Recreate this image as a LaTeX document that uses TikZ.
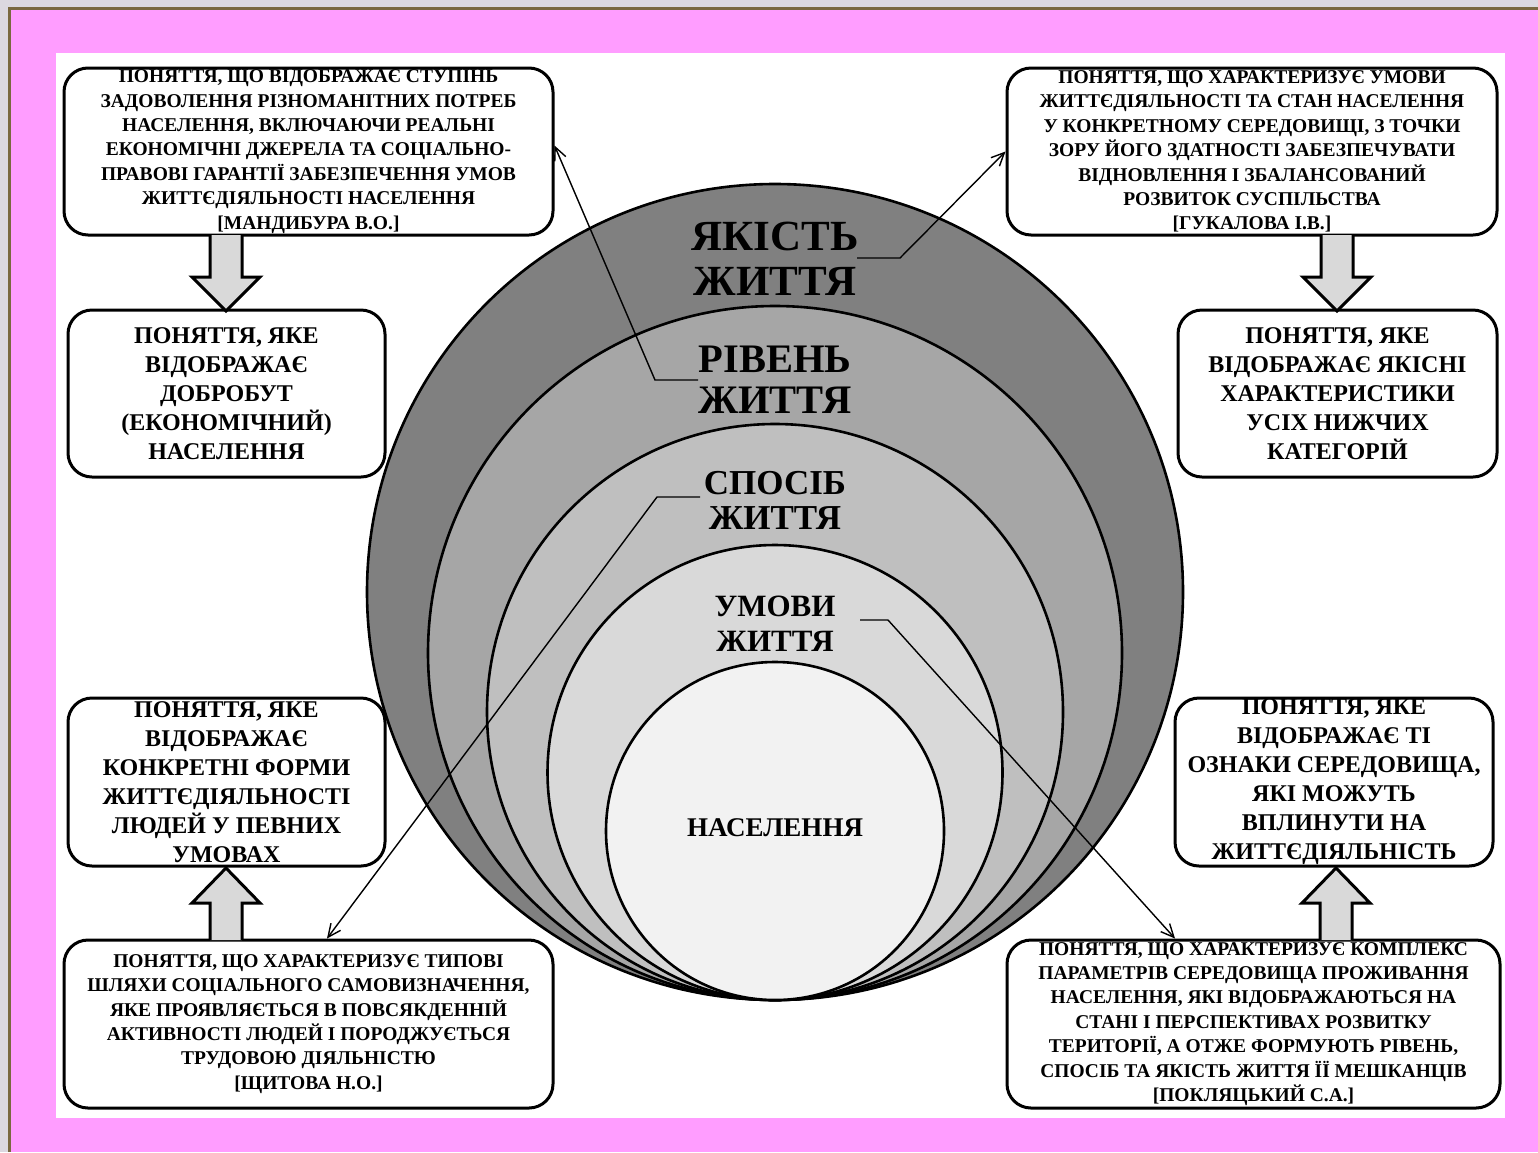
\documentclass[tikz,border=0pt]{standalone}
\usepackage{fontspec}
\setmainfont{Liberation Serif}[BoldFont={Liberation Serif Bold}]
\newfontfamily\timesbold{Liberation Serif Bold}
\usetikzlibrary{arrows.meta}
\definecolor{pinkbg}{HTML}{FF9DFF}
\definecolor{greyside}{HTML}{DCD8E0}
\definecolor{brownline}{HTML}{7A6840}
\definecolor{ringA}{HTML}{808080}
\definecolor{ringB}{HTML}{A6A6A6}
\definecolor{ringC}{HTML}{BFBFBF}
\definecolor{ringD}{HTML}{D9D9D9}
\definecolor{ringE}{HTML}{F2F2F2}
\definecolor{arrowgrey}{HTML}{D9D9D9}
\tikzset{
  defbox/.style={draw=black, line width=3pt, rounded corners=24pt, fill=white,
    inner sep=0pt, align=center},
  smalltext/.style={font=\timesbold\fontsize{19.5}{24.4}\selectfont},
  midtext/.style={font=\timesbold\fontsize{24}{29}\selectfont},
  ring/.style={circle, draw=black, line width=2.6pt, inner sep=0pt},
  ringlabel/.style={align=center, inner sep=0pt},
  connector/.style={draw=black, line width=1.4pt, -{Straight Barb[length=13pt,width=12pt]}},
  blockfill/.style={fill=arrowgrey},
  blockline/.style={draw=black, line width=3pt, line join=miter}
}
\begin{document}
\begin{tikzpicture}[x=1pt,y=-1pt]
\useasboundingbox (0,0) rectangle (1538,1152);
% background
\fill[greyside] (0,0) rectangle (1538,1152);
\fill[pinkbg] (9,8) rectangle (1538,1152);
\draw[brownline, line width=3pt] (9.5,1152) -- (9.5,8.5) -- (1538,8.5);
\fill[white] (56,53) rectangle (1505,1118);

% circles
\node[ring, fill=ringA, minimum size=816pt] (c1) at (775,592) {};
\node[ring, fill=ringB, minimum size=694pt] (c2) at (775,653) {};
\node[ring, fill=ringC, minimum size=576pt] (c3) at (775,712) {};
\node[ring, fill=ringD, minimum size=455pt] (c4) at (775,772.5) {};
\node[ring, fill=ringE, minimum size=338pt] (c5) at (775,831) {};

% ring labels
\node[ringlabel, font=\timesbold\fontsize{43}{45}\selectfont] (lq) at (775,259) {ЯКІСТЬ\\ЖИТТЯ};
\node[ringlabel, font=\timesbold\fontsize{40.5}{41}\selectfont] (lr) at (775,380) {РІВЕНЬ\\ЖИТТЯ};
\node[ringlabel, font=\timesbold\fontsize{35}{35}\selectfont] (ls) at (775,500) {СПОСІБ\\ЖИТТЯ};
\node[ringlabel, font=\timesbold\fontsize{31}{35}\selectfont] (lu) at (775,624) {УМОВИ\\ЖИТТЯ};
\node[ringlabel, font=\timesbold\fontsize{27}{30}\selectfont] (ln) at (775,828) {НАСЕЛЕННЯ};

% boxes
\node[defbox, smalltext, minimum width=489pt, minimum height=167pt] (tl) at (308.5,151.5)
 {ПОНЯТТЯ, ЩО ВІДОБРАЖАЄ СТУПІНЬ\\ЗАДОВОЛЕННЯ РІЗНОМАНІТНИХ ПОТРЕБ\\НАСЕЛЕННЯ, ВКЛЮЧАЮЧИ РЕАЛЬНІ\\ЕКОНОМІЧНІ ДЖЕРЕЛА ТА СОЦІАЛЬНО-\\ПРАВОВІ ГАРАНТІЇ ЗАБЕЗПЕЧЕННЯ УМОВ\\ЖИТТЄДІЯЛЬНОСТІ НАСЕЛЕННЯ\\{[}МАНДИБУРА В.О.{]}};
\node[defbox, smalltext, minimum width=490pt, minimum height=167pt] (tr) at (1252,151.5)
 {ПОНЯТТЯ, ЩО ХАРАКТЕРИЗУЄ УМОВИ\\ЖИТТЄДІЯЛЬНОСТІ ТА СТАН НАСЕЛЕННЯ\\У КОНКРЕТНОМУ СЕРЕДОВИЩІ, З ТОЧКИ\\ЗОРУ ЙОГО ЗДАТНОСТІ ЗАБЕЗПЕЧУВАТИ\\ВІДНОВЛЕННЯ І ЗБАЛАНСОВАНИЙ\\РОЗВИТОК СУСПІЛЬСТВА\\{[}ГУКАЛОВА І.В.{]}};
\node[defbox, midtext, minimum width=317pt, minimum height=167pt] (ml) at (226.5,393.5)
 {ПОНЯТТЯ, ЯКЕ\\ВІДОБРАЖАЄ\\ДОБРОБУТ\\(ЕКОНОМІЧНИЙ)\\НАСЕЛЕННЯ};
\node[defbox, midtext, minimum width=319pt, minimum height=167pt] (mr) at (1337.5,393.5)
 {ПОНЯТТЯ, ЯКЕ\\ВІДОБРАЖАЄ ЯКІСНІ\\ХАРАКТЕРИСТИКИ\\УСІХ НИЖЧИХ\\КАТЕГОРІЙ};
\node[defbox, midtext, minimum width=317pt, minimum height=168pt] (bl1) at (226.5,782)
 {ПОНЯТТЯ, ЯКЕ\\ВІДОБРАЖАЄ\\КОНКРЕТНІ ФОРМИ\\ЖИТТЄДІЯЛЬНОСТІ\\ЛЮДЕЙ У ПЕВНИХ\\УМОВАХ};
\node[defbox, midtext, minimum width=318pt, minimum height=168pt] (br1) at (1334,782)
 {ПОНЯТТЯ, ЯКЕ\\ВІДОБРАЖАЄ ТІ\\ОЗНАКИ СЕРЕДОВИЩА,\\ЯКІ МОЖУТЬ\\ВПЛИНУТИ НА\\ЖИТТЄДІЯЛЬНІСТЬ};
\node[defbox, smalltext, minimum width=489pt, minimum height=168pt] (bl2) at (308.5,1024)
 {ПОНЯТТЯ, ЩО ХАРАКТЕРИЗУЄ ТИПОВІ\\ШЛЯХИ СОЦІАЛЬНОГО САМОВИЗНАЧЕННЯ,\\ЯКЕ ПРОЯВЛЯЄТЬСЯ В ПОВСЯКДЕННІЙ\\АКТИВНОСТІ ЛЮДЕЙ І ПОРОДЖУЄТЬСЯ\\ТРУДОВОЮ ДІЯЛЬНІСТЮ\\{[}ЩИТОВА Н.О.{]}};
\node[defbox, smalltext, minimum width=493pt, minimum height=168pt] (br2) at (1253.5,1024)
 {ПОНЯТТЯ, ЩО ХАРАКТЕРИЗУЄ КОМПЛЕКС\\ПАРАМЕТРІВ СЕРЕДОВИЩА ПРОЖИВАННЯ\\НАСЕЛЕННЯ, ЯКІ ВІДОБРАЖАЮТЬСЯ НА\\СТАНІ І ПЕРСПЕКТИВАХ РОЗВИТКУ\\ТЕРИТОРІЇ, А ОТЖЕ ФОРМУЮТЬ РІВЕНЬ,\\СПОСІБ ТА ЯКІСТЬ ЖИТТЯ ЇЇ МЕШКАНЦІВ\\{[}ПОКЛЯЦЬКИЙ С.А.{]}};

% block arrows
\foreach \cx in {226,1337}{
  \fill[blockfill] (\cx-16,235) -- (\cx-16,277) -- (\cx-34,277) -- (\cx,311) -- (\cx+34,277) -- (\cx+16,277) -- (\cx+16,235) -- cycle;
  \draw[blockline] (\cx-16,235) -- (\cx-16,277) -- (\cx-34,277) -- (\cx,311) -- (\cx+34,277) -- (\cx+16,277) -- (\cx+16,235);
}
\foreach \cx in {226,1336}{
  \fill[blockfill] (\cx-16,940) -- (\cx-16,903) -- (\cx-34,903) -- (\cx,868) -- (\cx+34,903) -- (\cx+16,903) -- (\cx+16,940) -- cycle;
  \draw[blockline] (\cx-16,940) -- (\cx-16,903) -- (\cx-34,903) -- (\cx,868) -- (\cx+34,903) -- (\cx+16,903) -- (\cx+16,940);
}

% connectors
\coordinate (q0) at (857,258);
\coordinate (q1) at (900,258);
\draw[connector] (q0) -- (q1) -- (tr.west);
\coordinate (r0) at (698,380);
\coordinate (r1) at (655,380);
\draw[connector] (r0) -- (r1) -- ([yshift=6pt]tl.east);
\coordinate (s0) at (700,497);
\coordinate (s1) at (657,497);
\draw[connector] (s0) -- (s1) -- ([xshift=18.5pt]bl2.north);
\coordinate (u0) at (860,620);
\coordinate (u1) at (888,620);
\draw[connector] (u0) -- (u1) -- ([xshift=-78.5pt]br2.north);
\end{tikzpicture}
\end{document}
